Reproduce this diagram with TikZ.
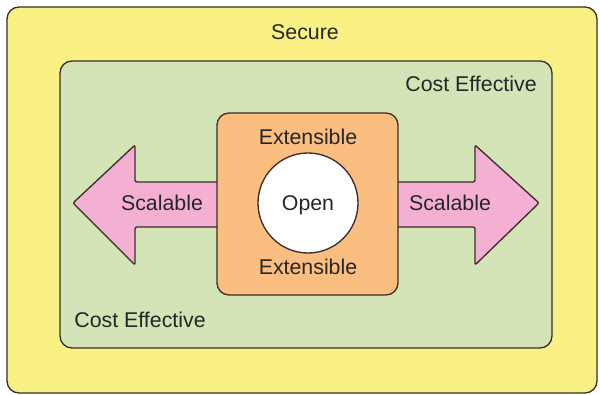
\documentclass[tikz,border=0pt]{standalone}
\usepackage{fontspec}
\setmainfont{Liberation Sans}
\usepackage{tikz}
\usetikzlibrary{positioning}
\definecolor{secureyellow}{RGB}{250,241,132}
\definecolor{costgreen}{RGB}{211,228,182}
\definecolor{extorange}{RGB}{250,190,128}
\definecolor{scalepink}{RGB}{244,176,210}
\definecolor{edge}{RGB}{60,45,40}
\tikzstyle{zone} = [draw=edge, line width=1pt, rounded corners=9pt]
\tikzstyle{arrowshape} = [draw=edge, line width=1pt, fill=scalepink, rounded corners=1.5pt]
\tikzstyle{word} = [anchor=base, inner sep=0pt, text=black!85, font=\fontsize{16}{19}\selectfont]

\begin{document}
\begin{tikzpicture}[x=0.75pt, y=-0.75pt]
\useasboundingbox (0,0) rectangle (600,395);
% nested zones
\draw [zone, fill=secureyellow] (7,7) rectangle (597,393);
\draw [zone, fill=costgreen] (60,61) rectangle (552,348);
% scalable arrows
\draw [arrowshape] (220,182) -- (135,182) -- (135,145) -- (73,203) -- (135,265) -- (135,227) -- (220,227) -- cycle;
\draw [arrowshape] (395,182) -- (475,182) -- (475,145) -- (539,203) -- (475,265) -- (475,227) -- (395,227) -- cycle;
% extensible box and open core
\draw [zone, fill=extorange] (217,113) rectangle (398,295);
\node (open) [circle, draw=edge, line width=1pt, fill=white, minimum size=75pt] at (308,203) {};

\node (secure) [word] at (305,40) {Secure};
\node (costTop) [word] at (471,92) {Cost Effective};
\node (costBottom) [word] at (140,328) {Cost Effective};
\node (extTop) [word] at (308,145) {Extensible};
\node (extBottom) [word] at (308,275) {Extensible};
\node (scaleLeft) [word] at (162,211) {Scalable};
\node (scaleRight) [word] at (450,211) {Scalable};
\node (openText) [word] at (308,211) {Open};
\end{tikzpicture}
\end{document}
